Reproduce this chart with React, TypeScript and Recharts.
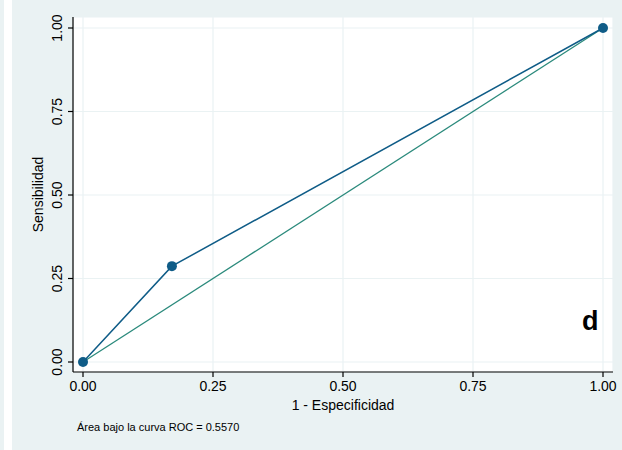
import { CartesianGrid, Line, LineChart, XAxis, YAxis } from "recharts"

const fpr = [0, 0.171, 1]
const sens = [0, 0.287, 1]
const diagonal = [0, 1]
const axisTicks = [0, 0.25, 0.5, 0.75, 1]
const xTitle = "1 - Especificidad"
const yTitle = "Sensibilidad"
const aucNote = "Área bajo la curva ROC = 0.5570"
const panel = "d"

const rocData = fpr.map((x, i) => ({ x, y: sens[i] }))
const refData = diagonal.map((v) => ({ x: v, y: v }))

const bg = "#eaf2f3"
const navy = "#0f5c87"
const teal = "#2b8a7c"
const font = "'Liberation Sans', Arial, Helvetica, sans-serif"

function YTick(props: any) {
  const { x, y, payload } = props
  const cx = x - 9
  return (
    <text
      x={cx}
      y={y}
      dy="0.35em"
      transform={`rotate(-90 ${cx} ${y})`}
      textAnchor="middle"
      fontSize={14}
      fontFamily={font}
      fill="#000"
    >
      {Number(payload.value).toFixed(2)}
    </text>
  )
}

function YTitle(props: any) {
  const vb = props.viewBox
  const cx = vb.x + 26
  const cy = vb.y + vb.height / 2
  return (
    <text x={cx} y={cy} dy="0.35em" transform={`rotate(-90 ${cx} ${cy})`} textAnchor="middle" fontSize={14} fontFamily={font} fill="#000">
      {yTitle}
    </text>
  )
}

function XTitle(props: any) {
  const vb = props.viewBox
  return (
    <text x={vb.x + vb.width / 2} y={vb.y + 33} dy="0.35em" textAnchor="middle" fontSize={14} fontFamily={font} fill="#000">
      {xTitle}
    </text>
  )
}

export default function App() {
  return (
    <div style={{ position: "absolute", left: 0, top: 0, width: 622, height: 450, background: "#fff" }}>
      <div style={{ position: "absolute", left: 0, top: 0, width: 4, height: 450, background: bg }} />
      <div style={{ position: "absolute", left: 12, top: 0, width: 610, height: 450, background: bg }} />
      <div style={{ position: "absolute", left: 0, top: 0 }}>
        <LineChart width={622} height={450} margin={{ top: 17, right: 9, left: 12, bottom: 28 }}>
          <CartesianGrid fill="#fff" stroke={bg} strokeWidth={1.2} />
          <XAxis
            type="number"
            dataKey="x"
            domain={[0, 1]}
            ticks={axisTicks}
            padding={{ left: 10, right: 10 }}
            height={50}
            tickSize={5}
            tickMargin={4}
            tickFormatter={(v: number) => v.toFixed(2)}
            tick={{ fontSize: 14, fontFamily: font, fill: "#000" }}
            axisLine={{ stroke: "#000", strokeWidth: 1.2 }}
            tickLine={{ stroke: "#000", strokeWidth: 1.2 }}
            label={<XTitle />}
          />
          <YAxis
            type="number"
            dataKey="y"
            domain={[0, 1]}
            ticks={axisTicks}
            padding={{ top: 11, bottom: 10 }}
            width={61}
            tickSize={5}
            tickMargin={2}
            tick={<YTick />}
            axisLine={{ stroke: "#000", strokeWidth: 1.2 }}
            tickLine={{ stroke: "#000", strokeWidth: 1.2 }}
            label={<YTitle />}
          />
          <Line data={refData} dataKey="y" type="linear" stroke={teal} strokeWidth={1.3} dot={false} isAnimationActive={false} />
          <Line
            data={rocData}
            dataKey="y"
            type="linear"
            stroke={navy}
            strokeWidth={1.5}
            dot={{ r: 5, fill: navy, stroke: navy, strokeWidth: 0 }}
            isAnimationActive={false}
          />
        </LineChart>
      </div>
      <svg width={622} height={450} style={{ position: "absolute", left: 0, top: 0, pointerEvents: "none" }}>
        <text x={582} y={330} fontSize={27} fontWeight="bold" fontFamily={font} fill="#000">
          {panel}
        </text>
        <text x={77} y={427} dy="0.35em" fontSize={11} fontFamily={font} fill="#000">
          {aucNote}
        </text>
      </svg>
    </div>
  )
}
